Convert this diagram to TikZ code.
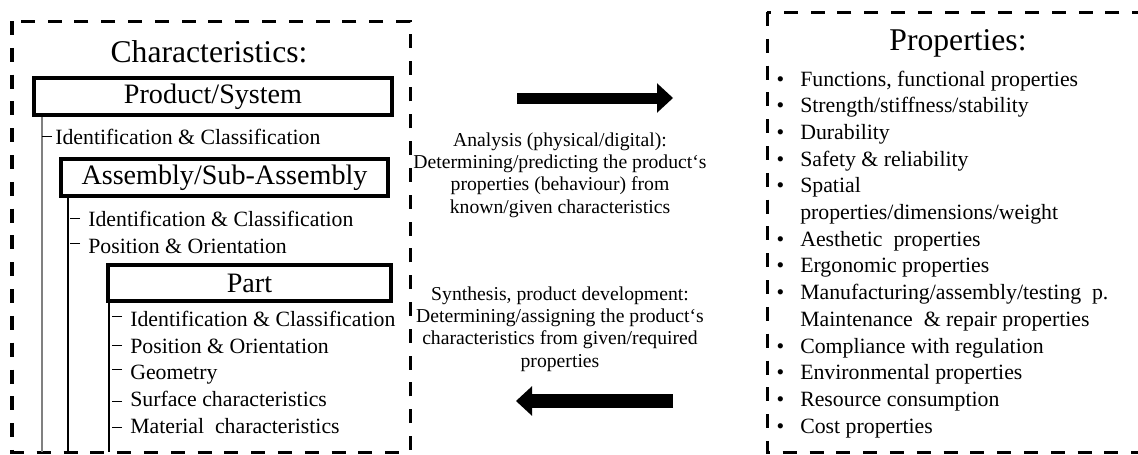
\documentclass[tikz,border=0pt]{standalone}
\usepackage{fontspec}
\setmainfont{Liberation Serif}
\usetikzlibrary{arrows.meta}
\newcommand{\propbullet}{\llap{\textbullet\hspace{0.4cm}}}

\begin{document}
\begin{tikzpicture}[x=0.025cm,y=-0.025cm,
  dashbox/.style={draw,line width=0.075cm,dash pattern=on 0.35cm off 0.32cm},
  objbox/.style={draw,line width=0.1cm,font=\fontsize{20}{24}\selectfont,inner sep=0pt},
  title/.style={font=\fontsize{22.5}{27}\selectfont,anchor=base,inner sep=0pt},
  item/.style={font=\fontsize{15.5}{18}\selectfont,anchor=base west,inner sep=0pt},
  tick/.style={line width=0.6pt},
  tree/.style={line width=0.8pt},
  midtext/.style={font=\fontsize{14}{15.8}\selectfont,align=center,inner sep=0pt},
  bigarrow/.style={-{Triangle[length=0.4cm,width=0.74cm,line width=0pt]}}]
  \useasboundingbox (0,0) rectangle (1138,454);
  \clip (0,0) rectangle (1138,454);

  \draw[dashbox] (12,21) rectangle (410,452);
  \coordinate (bottom) at (0,452);
  \node[title] (chartitle) at (209,62) {Characteristics:};

  \node[objbox,minimum width=8.95cm,minimum height=0.925cm] (product) at (213,96.5) {Product/System};
  \coordinate (prodline) at (42,117);
  \draw[tree,gray] (prodline) -- (prodline |- bottom);
  \node[item] (prodid) at (55,144) {Identification \& Classification};
  \draw[tick] ([shift={(-3,-8)}]prodid.base west) -- ++(-10,0);

  \node[objbox,minimum width=8.175cm,minimum height=0.925cm] (assembly) at (224.5,177.5) {Assembly/Sub-Assembly};
  \coordinate (asmline) at (68,198);
  \draw[tree] (asmline) -- (asmline |- bottom);
  \node[item] (asmid) at (88,226) {Identification \& Classification};
  \node[item] (asmpos) at (88,253) {Position \& Orientation};
  \draw[tick] ([shift={(-8,-8)}]asmid.base west) -- ++(-10,0);
  \draw[tick] ([shift={(-8,-10)}]asmpos.base west) -- ++(-10,0);

  \node[objbox,minimum width=7.075cm,minimum height=0.9cm] (part) at (249.5,283) {Part};
  \coordinate (partline) at (109,303);
  \draw[tree] (partline) -- (partline |- bottom);
  \node[item] (partid) at (130,326) {Identification \& Classification};
  \node[item] (partpos) at (130,353) {Position \& Orientation};
  \node[item] (partgeo) at (130,379) {Geometry};
  \node[item] (partsurf) at (130,406) {Surface characteristics};
  \node[item] (partmat) at (130,433) {Material\ \ characteristics};
  \draw[tick] ([shift={(-8,-10)}]partid.base west) -- ++(-10,0);
  \draw[tick] ([shift={(-8,-8)}]partpos.base west) -- ++(-10,0);
  \draw[tick] ([shift={(-8,-10)}]partgeo.base west) -- ++(-10,0);
  \draw[tick] ([shift={(-8,-5)}]partsurf.base west) -- ++(-10,0);
  \draw[tick] ([shift={(-8,-6)}]partmat.base west) -- ++(-10,0);

  \coordinate (anstart) at (517,98);
  \coordinate (anend) at (673,98);
  \draw[bigarrow,line width=0.275cm] (anstart) -- (anend);
  \node[midtext] (analysis) at (560,175) {Analysis (physical/digital):\\Determining/predicting the product‘s\\properties (behaviour) from\\known/given characteristics};
  \node[midtext] (synthesis) at (560,329) {Synthesis, product development:\\Determining/assigning the product‘s\\characteristics from given/required\\properties};
  \coordinate (synstart) at (673,401);
  \coordinate (synend) at (516,401);
  \draw[bigarrow,line width=0.35cm] (synstart) -- (synend);

  \draw[dashbox] (767,12) rectangle (1160,452);
  \node[title] (proptitle) at (958,50) {Properties:};
  \node[item] (pfunc) at (800,86) {\propbullet Functions, functional properties};
  \node[item] (pstren) at (800,112.7) {\propbullet Strength/stiffness/stability};
  \node[item] (pdur) at (800,139.4) {\propbullet Durability};
  \node[item] (psafe) at (800,166.1) {\propbullet Safety \& reliability};
  \node[item] (pspat) at (800,192.8) {\propbullet Spatial};
  \node[item] (pdim) at (800,219.5) {properties/dimensions/weight};
  \node[item] (paest) at (800,246.2) {\propbullet Aesthetic\ \ properties};
  \node[item] (pergo) at (800,272.9) {\propbullet Ergonomic properties};
  \node[item] (pmanu) at (800,299.6) {\propbullet Manufacturing/assembly/testing\ \ p.};
  \node[item] (pmain) at (800,326.3) {Maintenance\ \ \& repair properties};
  \node[item] (pcomp) at (800,353) {\propbullet Compliance with regulation};
  \node[item] (penv) at (800,379.7) {\propbullet Environmental properties};
  \node[item] (pres) at (800,406.4) {\propbullet Resource consumption};
  \node[item] (pcost) at (800,433.1) {\propbullet Cost properties};
\end{tikzpicture}
\end{document}
